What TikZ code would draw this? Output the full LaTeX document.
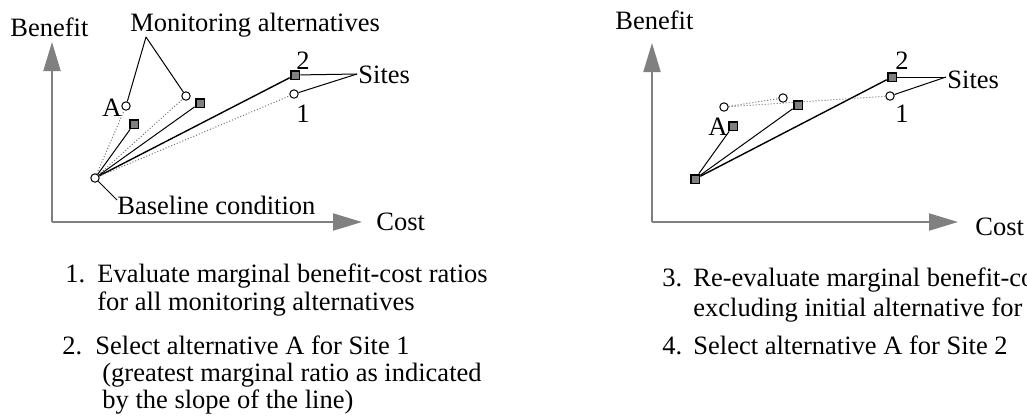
\documentclass[tikz,border=0pt]{standalone}
\usepackage{fontspec}
\setmainfont{Liberation Serif}
\usetikzlibrary{arrows.meta,positioning}

\definecolor{axisgray}{RGB}{128,128,128}

\begin{document}
\begin{tikzpicture}[
    x=0.5pt, y=-0.5pt,
    every node/.style={font=\fontsize{13.25}{15}\selectfont, inner sep=0pt},
    alt/.style={circle, draw=black, fill=white, line width=0.5pt,
        minimum size=4.2pt},
    sitebox/.style={rectangle, draw=black, fill=axisgray, line width=0.9pt,
        minimum size=4.4pt},
    label/.style={anchor=west},
    steptext/.style={anchor=base west},
    axis/.style={draw=axisgray, line width=1pt,
        -{Triangle[length=14.5pt, width=8.5pt]}},
    sel/.style={draw=black, line width=0.5pt},
    selthick/.style={draw=black, line width=0.7pt},
    cand/.style={draw=black!55, line width=0.5pt, densely dotted},
    lead/.style={draw=black, line width=0.5pt},
]
\useasboundingbox (0,0) rectangle (1027,419);
\clip (0,0) rectangle (1027,419);

% Left panel: axes
\coordinate (lorig) at (52,222);
\coordinate (lytip) at (52,42);
\coordinate (lxtip) at (362,222);
\draw[axis] (lorig) -- (lytip);
\draw[axis] (lorig) -- (lxtip);
\node[label] (lben)  at (10,27)  {Benefit};
\node[label] (lcost) at (376,222) {Cost};

% Left panel: points
\node[alt]     (lbase) at (95,178)  {};
\node[alt]     (laA)   at (126,106) {};
\node[sitebox] (lsA)   at (134,124) {};
\node[alt]     (laB)   at (186,96)  {};
\node[sitebox] (lsB)   at (200,103) {};
\node[sitebox] (ls2)   at (295,75)  {};
\node[alt]     (la1)   at (294,94)  {};

% Left panel: slopes from baseline
\draw[cand]     (lbase) -- (laA);
\draw[sel]      (lbase) -- (lsA);
\draw[cand]     (lbase) -- (laB);
\draw[sel]      (lbase) -- (lsB);
\draw[selthick] (lbase) -- (ls2);
\draw[cand]     (lbase) -- (la1);

% Left panel: labels and leaders
\node[label] (lmon) at (130,25) {Monitoring alternatives};
\coordinate (lmonpt) at (146,37);
\draw[lead] (lmonpt) -- (laA);
\draw[lead] (lmonpt) -- (laB);
\node[anchor=east] (lAlab) at (122,108) {A};
\node (l2lab) at (303,61)  {2};
\node (l1lab) at (303,114) {1};
\node[label] (lsites) at (358,75) {Sites};
\coordinate (lsitept) at (357,74);
\draw[lead] (lsitept) -- (ls2);
\draw[lead] (lsitept) -- (la1);
\coordinate (lbasept) at (117,200);
\draw[lead] (lbase) -- (lbasept);
\node[label] (lbaselab) at (117,205) {Baseline condition};

% Right panel: axes
\coordinate (rorig) at (652,222);
\coordinate (rytip) at (652,43);
\coordinate (rxtip) at (958,222);
\draw[axis] (rorig) -- (rytip);
\draw[axis] (rorig) -- (rxtip);
\node[label] (rben)  at (615,20)  {Benefit};
\node[label] (rcost) at (975,227) {Cost};

% Right panel: points
\node[sitebox] (rbase) at (695,179) {};
\node[sitebox] (rsA)   at (733,126) {};
\node[alt]     (raA)   at (724,107) {};
\node[alt]     (raB)   at (783,98)  {};
\node[sitebox] (rsB)   at (798,105) {};
\node[sitebox] (rs2)   at (892,77)  {};
\node[alt]     (ra1)   at (890,96)  {};

% Right panel: slopes
\draw[sel]      (rbase) -- (rsA);
\draw[sel]      (rbase) -- (rsB);
\draw[selthick] (rbase) -- (rs2);
\draw[cand]     (raA) -- (raB);
\draw[cand]     (raA) -- (ra1);

% Right panel: labels and leaders
\node[anchor=east] (rAlab) at (728,127) {A};
\node (r2lab) at (902,61)  {2};
\node (r1lab) at (902,114) {1};
\node[label] (rsites) at (947,80) {Sites};
\coordinate (rsitept) at (946,77);
\draw[lead] (rsitept) -- (rs2);
\draw[lead] (rsitept) -- (ra1);

% Steps text
\node[steptext] (n1)  at (65,282)  {1.};
\node[steptext] (t1a) at (97,282)  {Evaluate marginal benefit-cost ratios};
\node[steptext] (t1b) at (97,310)  {for all monitoring alternatives};
\node[steptext] (n2)  at (62,354)  {2.};
\node[steptext] (t2a) at (95,354)  {Select alternative A for Site 1};
\node[steptext] (t2b) at (102,381) {(greatest marginal ratio as indicated};
\node[steptext] (t2c) at (102,408) {by the slope of the line)};
\node[steptext] (n3)  at (662,286) {3.};
\node[steptext] (t3a) at (693,286) {Re-evaluate marginal benefit-cost ratios};
\node[steptext] (t3b) at (693,316) {excluding initial alternative for};
\node[steptext] (n4)  at (662,354) {4.};
\node[steptext] (t4a) at (693,354) {Select alternative A for Site 2};

\end{tikzpicture}
\end{document}
